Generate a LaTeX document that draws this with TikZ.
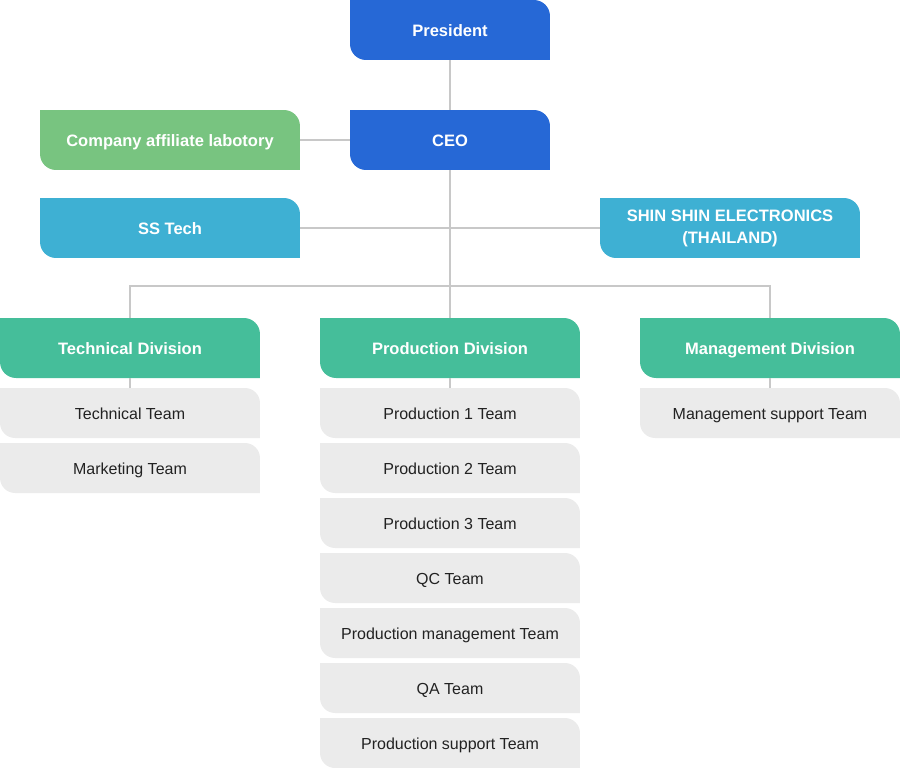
\documentclass[tikz,border=0pt]{standalone}
\usepackage{fontspec}
\setmainfont{Liberation Sans}
\usepackage{xcolor}
\usepackage{tikz}
\usetikzlibrary{positioning}

\definecolor{topblue}{RGB}{38,104,214}
\definecolor{labgreen}{RGB}{120,196,128}
\definecolor{subblue}{RGB}{62,176,211}
\definecolor{divgreen}{RGB}{69,190,154}
\definecolor{teamgray}{RGB}{235,235,235}
\definecolor{teamtext}{RGB}{34,34,34}
\definecolor{linegray}{RGB}{200,200,200}

\begin{document}
\begin{tikzpicture}[x=0.02cm, y=-0.02cm,
		conn/.style={draw=linegray, line width=0.6pt},
		cornerfill/.style 2 args={path picture={
			\fill[#1] (path picture bounding box.north west)
				-- ([xshift=-#2]path picture bounding box.north east) arc[start angle=90, end angle=0, radius=#2]
				-- (path picture bounding box.south east)
				-- ([xshift=#2]path picture bounding box.south west) arc[start angle=270, end angle=180, radius=#2]
				-- cycle;}},
		unitbox/.style={cornerfill={#1}{0.32cm}, inner sep=0pt, minimum height=1.2cm, text=white,
			font=\fontsize{9.4}{12.5}\selectfont\bfseries, align=center},
		oneline/.style={text height=0.72em, text depth=0pt},
		headbox/.style={unitbox=#1, oneline, minimum width=4cm},
		sidebox/.style={unitbox=#1, minimum width=5.2cm},
		divbox/.style={unitbox=divgreen, oneline, minimum width=5.2cm},
		teambox/.style={cornerfill={teamgray}{0.3cm}, inner sep=0pt, minimum width=5.2cm, minimum height=1cm,
			oneline, text=teamtext, font=\fontsize{9.1}{11}\selectfont}]
	\useasboundingbox (0,0) rectangle (900,768);
	% top of the chart
	\node[headbox=topblue] (president) at (450,30) {President};
	\node[headbox=topblue] (ceo) at (450,140) {CEO};
	\node[sidebox=labgreen, oneline] (lab) at (170,140) {Company affiliate labotory};
	\node[sidebox=subblue, oneline] (sstech) at (170,228) {SS Tech};
	\node[sidebox=subblue] (shinshin) at (730,228) {SHIN SHIN ELECTRONICS\\(THAILAND)};
	% divisions
	\node[divbox] (technical) at (130,348) {Technical Division};
	\node[divbox] (production) at (450,348) {Production Division};
	\node[divbox] (management) at (770,348) {Management Division};
	\coordinate (hub) at (450,286);
	% teams
	\node[teambox] (techteam) at (130,413) {Technical Team};
	\node[teambox] (marketing) at (130,468) {Marketing Team};
	\node[teambox] (prodone) at (450,413) {Production 1 Team};
	\node[teambox] (prodtwo) at (450,468) {Production 2 Team};
	\node[teambox] (prodthree) at (450,523) {Production 3 Team};
	\node[teambox] (qc) at (450,578) {QC Team};
	\node[teambox] (prodmgmt) at (450,633) {Production management Team};
	\node[teambox] (qa) at (450,688) {QA Team};
	\node[teambox] (prodsupport) at (450,743) {Production support Team};
	\node[teambox] (mgmtsupport) at (770,413) {Management support Team};
	% connectors
	\draw[conn] (president.south) -- (ceo.north);
	\draw[conn] (lab.east) -- (ceo.west);
	\draw[conn] (ceo.south) -- (production.north);
	\draw[conn] (sstech.east) -- (shinshin.west);
	\draw[conn] (technical.north) |- (hub) -| (management.north);
	\draw[conn] (technical.south) -- (techteam.north);
	\draw[conn] (production.south) -- (prodone.north);
	\draw[conn] (management.south) -- (mgmtsupport.north);
\end{tikzpicture}
\end{document}
